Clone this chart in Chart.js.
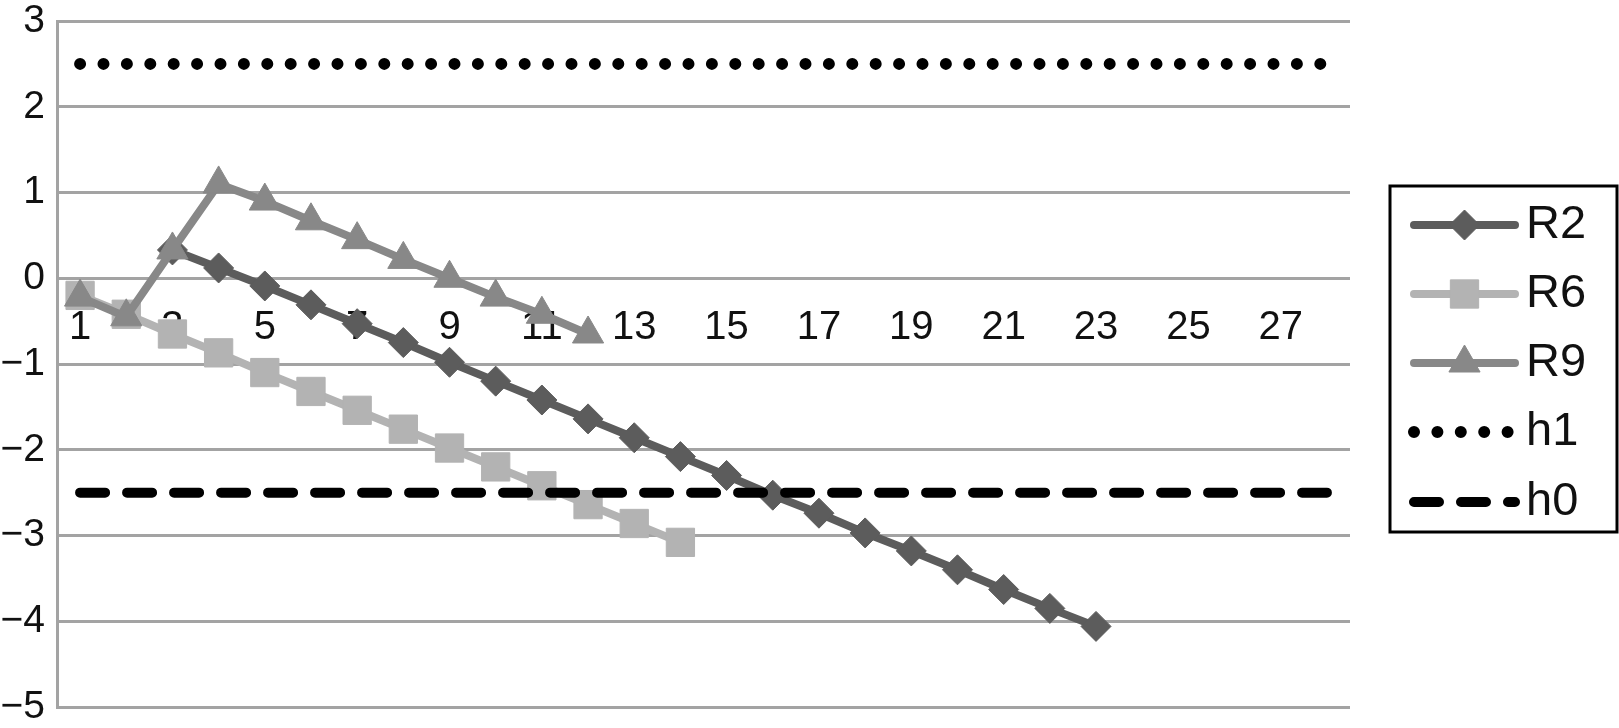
<!DOCTYPE html>
<html>
<head>
<meta charset="utf-8">
<script src="https://cdn.jsdelivr.net/npm/chart.js@4.4.1/dist/chart.umd.min.js"></script>
<style>
  html, body { margin: 0; padding: 0; background: #fff; }
  #wrap { width: 1619px; height: 728px; }
</style>
</head>
<body>
<div id="wrap"><canvas id="grafico" width="1619" height="728"></canvas></div>
<script>
// categorias do eixo x (1..28)
const categorias = ['1','2','3','4','5','6','7','8','9','10','11','12','13','14',
  '15','16','17','18','19','20','21','22','23','24','25','26','27','28'];

// valores
const r2 = [null, null, 0.33, 0.12, -0.09, -0.31, -0.53, -0.75, -0.98, -1.20, -1.42, -1.64,
  -1.86, -2.08, -2.30, -2.53, -2.74, -2.97, -3.18, -3.40, -3.63, -3.85, -4.06];
const r6 = [-0.20, -0.42, -0.65, -0.87, -1.10, -1.32, -1.54, -1.76, -1.98, -2.20, -2.42,
  -2.64, -2.86, -3.08];
const r9 = [-0.22, -0.45, 0.33, 1.10, 0.90, 0.67, 0.45, 0.22, 0.00, -0.22, -0.42, -0.65];
const h1 = [2.5, 2.5, 2.5, 2.5, 2.5, 2.5, 2.5, 2.5, 2.5, 2.5, 2.5, 2.5, 2.5, 2.5,
  2.5, 2.5, 2.5, 2.5, 2.5, 2.5, 2.5, 2.5, 2.5, 2.5, 2.5, 2.5, 2.5, 2.5];
const h0 = [-2.5, -2.5, -2.5, -2.5, -2.5, -2.5, -2.5, -2.5, -2.5, -2.5, -2.5, -2.5, -2.5, -2.5,
  -2.5, -2.5, -2.5, -2.5, -2.5, -2.5, -2.5, -2.5, -2.5, -2.5, -2.5, -2.5, -2.5, -2.5];

const yMin = -5, yMax = 3;
const fonte = '"Liberation Sans", Arial, sans-serif';

function serie(label, data, cor, ponto, raio, ordem) {
  return {
    label: label, data: data, order: ordem,
    borderColor: cor, backgroundColor: cor,
    borderWidth: 8, borderCapStyle: 'round', borderJoinStyle: 'round',
    pointStyle: ponto, pointRadius: raio, pointHoverRadius: raio,
    pointBackgroundColor: cor, pointBorderColor: cor, pointBorderWidth: 1,
    spanGaps: false, tension: 0
  };
}

function linhaRef(label, data, dash, largura, ordem) {
  return {
    label: label, data: data, order: ordem,
    borderColor: '#000', backgroundColor: '#000',
    borderWidth: largura, borderDash: dash, borderCapStyle: 'round',
    pointRadius: 0, pointHoverRadius: 0, tension: 0
  };
}

// legenda com moldura, desenhada à mão
const legendaPlugin = {
  id: 'legendaCaixa',
  afterDraw(chart) {
    const ctx = chart.ctx;
    const x0 = 1390, y0 = 186, w = 227, h = 346;
    ctx.save();
    ctx.strokeStyle = '#000';
    ctx.lineWidth = 3;
    ctx.strokeRect(x0, y0, w, h);
    const ys = [225, 294, 363, 432, 502];
    const xa = 1414, xb = 1515;
    chart.data.datasets.forEach((ds, i) => {
      const y = ys[i];
      ctx.save();
      ctx.strokeStyle = ds.borderColor;
      ctx.lineWidth = ds.borderWidth;
      ctx.lineCap = 'round';
      ctx.setLineDash(ds.borderDash || []);
      ctx.beginPath();
      ctx.moveTo(xa, y);
      ctx.lineTo(xb, y);
      ctx.stroke();
      ctx.restore();
      if (ds.pointRadius > 0) {
        ctx.save();
        ctx.fillStyle = ds.pointBackgroundColor;
        ctx.strokeStyle = ds.pointBorderColor;
        ctx.lineWidth = 1;
        Chart.helpers.drawPoint(ctx, {
          pointStyle: ds.pointStyle, rotation: 0,
          radius: ds.pointRadius, borderWidth: 1
        }, (xa + xb) / 2, y);
        ctx.restore();
      }
      ctx.fillStyle = '#111';
      ctx.font = '47px ' + fonte;
      ctx.textBaseline = 'middle';
      ctx.textAlign = 'left';
      ctx.fillText(ds.label, 1526, y);
    });
    ctx.restore();
  }
};

const ctx = document.getElementById('grafico').getContext('2d');
const grafico = new Chart(ctx, {
  type: 'line',
  data: {
    labels: categorias,
    datasets: [
      serie('R2', r2, '#5c5c5c', 'rectRot', 15, 5),
      serie('R6', r6, '#b3b3b3', 'rect', 20, 4),
      serie('R9', r9, '#888888', 'triangle', 18, 3),
      linhaRef('h1', h1, [0, 23.4], 12, 2),
      linhaRef('h0', h0, [25, 22], 10, 1)
    ]
  },
  options: {
    responsive: false,
    animation: false,
    events: [],
    layout: { padding: { left: 0, right: 269, top: 0, bottom: 0 } },
    plugins: { legend: { display: false }, tooltip: { enabled: false } },
    scales: {
      x: {
        type: 'category',
        offset: true,
        position: { y: 0 },
        grid: { display: false, drawTicks: false },
        border: { display: false },
        ticks: {
          autoSkip: false, maxRotation: 0, padding: 26,
          color: '#111', font: { family: fonte, size: 40 },
          callback: function(val, idx) { return idx % 2 === 0 ? categorias[idx] : ''; }
        },
        afterFit: function(s) { s.paddingLeft = 0; s.paddingRight = 0; }
      },
      y: {
        min: yMin, max: yMax,
        grid: { color: '#a3a3a3', lineWidth: 3, drawTicks: false },
        border: { display: true, color: '#a3a3a3', width: 3 },
        ticks: {
          stepSize: 1, padding: 12, color: '#111',
          font: { family: fonte, size: 39 },
          callback: function(v) { return v < 0 ? '\u2212' + Math.abs(v) : String(v); }
        },
        afterFit: function(s) { s.width = 57; s.paddingTop = 20.5; s.paddingBottom = 20.5; }
      }
    }
  },
  plugins: [legendaPlugin]
});
</script>
</body>
</html>
